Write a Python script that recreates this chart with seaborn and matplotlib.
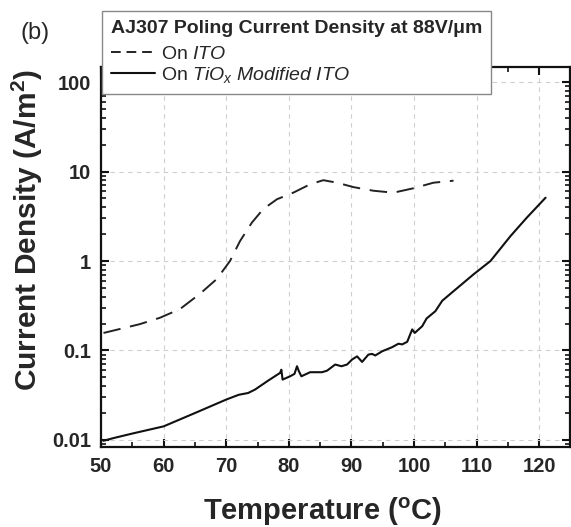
import numpy as np
import pandas as pd
import matplotlib
matplotlib.use("Agg")
import matplotlib.pyplot as plt
from matplotlib.ticker import LogLocator, FixedLocator, FixedFormatter, MultipleLocator, NullFormatter
from matplotlib.lines import Line2D
import seaborn as sns

# ---- data ----
ito_temp = [50.4, 56.2, 59.4, 62.6, 65.8, 68.5, 70.6, 72.2, 74.1, 75.9, 78.1, 80.7,
            83.4, 85.5, 87.7, 90.3, 93.5, 96.7, 99.9, 103.1, 106.3]
ito_j = [0.157, 0.197, 0.232, 0.29, 0.43, 0.63, 1.0, 1.67, 2.69, 3.8, 4.9, 5.8,
         7.2, 8.0, 7.5, 6.7, 6.1, 5.8, 6.5, 7.5, 7.9]

tio_temp = [50.4, 52.0, 55.0, 60.0, 65.0, 70.0, 72.0, 73.5, 74.6, 76.7, 78.6, 78.8,
            79.0, 80.2, 80.9, 81.3, 81.6, 82.0, 83.4, 85.3, 86.1, 87.4, 88.4, 89.3,
            90.1, 90.9, 91.7, 92.7, 93.3, 93.8, 94.9, 96.5, 97.5, 98.1, 98.9, 99.7,
            100.1, 101.3, 102.0, 103.4, 104.5, 106.3, 109.5, 112.2, 115.4, 118.0, 121.0]
tio_j = [0.0098, 0.0105, 0.0118, 0.0142, 0.020, 0.0283, 0.0320, 0.0335, 0.0366, 0.0461,
         0.0562, 0.0610, 0.0473, 0.0515, 0.0548, 0.0667, 0.0587, 0.0515, 0.0572, 0.0572,
         0.0595, 0.0697, 0.0667, 0.0697, 0.0793, 0.086, 0.0745, 0.090, 0.0916, 0.088,
         0.098, 0.109, 0.119, 0.117, 0.125, 0.172, 0.157, 0.187, 0.228, 0.275, 0.36,
         0.46, 0.71, 1.0, 1.9, 3.05, 5.1]

x_ticks = [50, 60, 70, 80, 90, 100, 110, 120]
y_ticks = [0.01, 0.1, 1, 10, 100]
y_tick_labels = ["0.01", "0.1", "1", "10", "100"]

legend_title = "AJ307 Poling Current Density at 88V/\u03bcm"
label_ito = r"On $\mathit{ITO}$"
label_tio = r"On $\mathit{TiO_x}$ $\mathit{Modified\ ITO}$"

# ---- style ----
sns.set_theme(style="ticks")
plt.rcParams["font.family"] = ["Liberation Sans", "DejaVu Sans"]
plt.rcParams["mathtext.fontset"] = "custom"
plt.rcParams["mathtext.rm"] = "Liberation Sans"
plt.rcParams["mathtext.it"] = "Liberation Sans:italic"
plt.rcParams["mathtext.bf"] = "Liberation Sans:bold"

W, H = 571, 527
fig = plt.figure(figsize=(W / 100, H / 100), dpi=100)
ax = fig.add_axes([101 / W, 1 - 447 / H, (570 - 101) / W, (447 - 67) / H])

df_ito = pd.DataFrame({"T": ito_temp, "J": ito_j})
df_tio = pd.DataFrame({"T": tio_temp, "J": tio_j})

sns.lineplot(data=df_ito, x="T", y="J", ax=ax, color="#222222", lw=1.4,
             errorbar=None, sort=True)
ax.lines[-1].set_dashes([9, 5])
sns.lineplot(data=df_tio, x="T", y="J", ax=ax, color="#111111", lw=1.5,
             errorbar=None, sort=True)

ax.set_yscale("log")
ax.set_xlim(50, 124.9)
ax.set_ylim(10 ** (-2 - 7 / 89.3), 10 ** (2 + 15 / 89.3))

ax.xaxis.set_major_locator(FixedLocator(x_ticks))
ax.xaxis.set_minor_locator(MultipleLocator(5))
ax.yaxis.set_major_locator(FixedLocator(y_ticks))
ax.yaxis.set_major_formatter(FixedFormatter(y_tick_labels))
ax.yaxis.set_minor_locator(LogLocator(base=10, subs=np.arange(2, 10)))
ax.yaxis.set_minor_formatter(NullFormatter())

ax.grid(True, which="major", color="#cfcfcf", linestyle=(0, (4, 4)), lw=0.8)
ax.set_axisbelow(True)

for s in ax.spines.values():
    s.set_linewidth(1.6)
    s.set_color("#111111")

ax.tick_params(which="both", direction="in", top=True, right=True, color="#111111")
ax.tick_params(which="major", length=6, width=1.5, pad=7, labelsize=14.5)
ax.tick_params(which="minor", length=3.5, width=1.2)
for lab in ax.get_xticklabels() + ax.get_yticklabels():
    lab.set_fontweight("bold")

ax.set_xlabel(r"Temperature ($^{\mathbf{o}}$C)", fontsize=21, fontweight="bold")
ax.set_ylabel(r"Current Density (A/m$^{\mathbf{2}}$)", fontsize=21.5, fontweight="bold")
ax.xaxis.set_label_coords(203 / W, 1 - 520 / H, transform=fig.transFigure)
ax.xaxis.label.set_ha("left")
ax.xaxis.label.set_va("baseline")
ax.yaxis.set_label_coords(37 / W, 1 - 391 / H, transform=fig.transFigure)
ax.yaxis.label.set_ha("left")
ax.yaxis.label.set_va("baseline")

handles = [Line2D([], [], color="#222222", lw=1.4, dashes=[5, 3]),
           Line2D([], [], color="#111111", lw=1.5)]
leg = ax.legend(handles, [label_ito, label_tio], title=legend_title,
                loc="upper left", bbox_to_anchor=(102 / W, 1 - 11 / H),
                bbox_transform=fig.transFigure, borderaxespad=0,
                fontsize=14, title_fontproperties={"weight": "bold", "size": 14},
                alignment="left", fancybox=False, framealpha=1,
                edgecolor="#888888", handlelength=2.3, handletextpad=0.3,
                labelspacing=0.12, borderpad=0.45)
leg._legend_box.sep = 6
leg.get_frame().set_linewidth(1.0)
leg.set_zorder(10)

fig.text(20 / W, 1 - 22 / H, "(b)", fontsize=17, va="top", ha="left")

fig.savefig("out.png", dpi=100)
